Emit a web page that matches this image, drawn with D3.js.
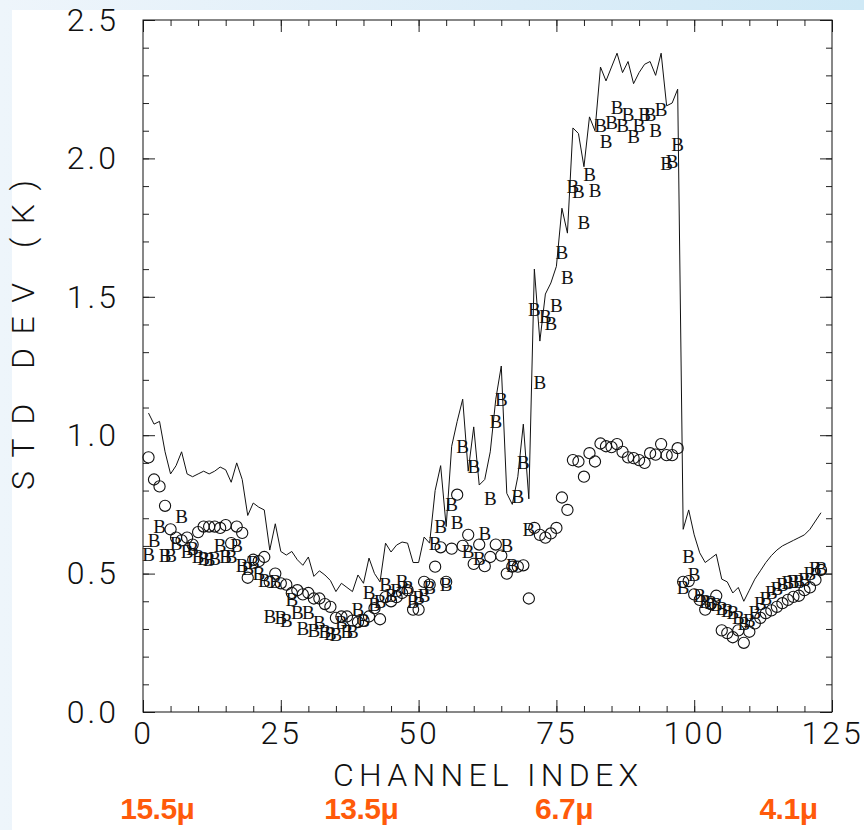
<!DOCTYPE html>
<html>
<head>
<meta charset="utf-8">
<script src="https://cdn.jsdelivr.net/npm/d3@7"></script>
<style>
  body { margin: 0; background: #fff; }
  svg { display: block; }
</style>
</head>
<body>
<svg id="chart"></svg>
<script>
// channel numbers 1..123
var channels = d3.range(1, 124);

// solid line
var lineValues = [
  1.08, 1.04, 1.05, 0.94, 0.86, 0.89, 0.94, 0.86, 0.85, 0.86,
  0.87, 0.86, 0.87, 0.885, 0.875, 0.83, 0.90, 0.84, 0.71, 0.755,
  0.74, 0.73, 0.585, 0.68, 0.58, 0.567, 0.58, 0.55, 0.53, 0.56,
  0.49, 0.51, 0.495, 0.475, 0.435, 0.465, 0.45, 0.435, 0.495, 0.465,
  0.556, 0.50, 0.47, 0.61, 0.578, 0.603, 0.614, 0.61, 0.54, 0.54,
  0.632, 0.61, 0.80, 0.89, 0.67, 0.96, 1.05, 1.13, 0.87, 1.03,
  0.82, 0.84, 0.94, 1.13, 1.25, 0.79, 0.75, 0.85, 1.04, 0.77,
  1.60, 1.34, 1.51, 1.55, 1.61, 1.82, 1.73, 2.11, 2.09, 1.97,
  2.15, 2.10, 2.33, 2.28, 2.33, 2.38, 2.31, 2.35, 2.27, 2.31,
  2.34, 2.35, 2.30, 2.38, 2.19, 2.20, 2.25, 0.66, 0.73, 0.64,
  0.575, 0.54, 0.555, 0.57, 0.48, 0.47, 0.43, 0.45, 0.40, 0.44,
  0.48, 0.51, 0.54, 0.565, 0.585, 0.60, 0.61, 0.62, 0.63, 0.64,
  0.66, 0.69, 0.72
];

// "O" symbols
var circleValues = [
  0.92, 0.84, 0.815, 0.745, 0.66, 0.63, 0.62, 0.63, 0.605, 0.65,
  0.67, 0.67, 0.67, 0.665, 0.675, 0.61, 0.67, 0.647, 0.485, 0.55,
  0.545, 0.56, 0.47, 0.50, 0.465, 0.46, 0.43, 0.44, 0.425, 0.43,
  0.41, 0.41, 0.39, 0.38, 0.34, 0.345, 0.345, 0.33, 0.325, 0.33,
  0.345, 0.375, 0.335, 0.415, 0.40, 0.415, 0.43, 0.44, 0.37, 0.37,
  0.47, 0.46, 0.525, 0.595, 0.47, 0.59, 0.785, 0.60, 0.64, 0.535,
  0.605, 0.527, 0.56, 0.605, 0.565, 0.50, 0.525, 0.525, 0.53, 0.41,
  0.665, 0.64, 0.63, 0.645, 0.665, 0.775, 0.73, 0.91, 0.905, 0.85,
  0.935, 0.905, 0.97, 0.96, 0.957, 0.968, 0.94, 0.92, 0.917, 0.91,
  0.90, 0.935, 0.93, 0.968, 0.928, 0.928, 0.953, 0.47, 0.473, 0.425,
  0.405, 0.37, 0.39, 0.42, 0.295, 0.285, 0.27, 0.295, 0.25, 0.29,
  0.32, 0.34, 0.357, 0.367, 0.38, 0.393, 0.405, 0.416, 0.42, 0.44,
  0.45, 0.477, 0.513
];

// "B" symbols
var bValues = [
  0.57, 0.62, 0.67, 0.565, 0.565, 0.61, 0.705, 0.58, 0.59, 0.56,
  0.555, 0.55, 0.555, 0.60, 0.56, 0.56, 0.60, 0.53, 0.52, 0.54,
  0.50, 0.475, 0.345, 0.47, 0.342, 0.33, 0.405, 0.36, 0.30, 0.36,
  0.296, 0.325, 0.29, 0.285, 0.28, 0.325, 0.29, 0.29, 0.37, 0.33,
  0.43, 0.39, 0.40, 0.46, 0.42, 0.44, 0.47, 0.45, 0.40, 0.415,
  0.42, 0.45, 0.61, 0.67, 0.46, 0.75, 0.685, 0.96, 0.58, 0.885,
  0.555, 0.645, 0.77, 1.05, 1.13, 0.60, 0.53, 0.78, 0.90, 0.66,
  1.455, 1.19, 1.43, 1.405, 1.467, 1.66, 1.57, 1.90, 1.88, 1.77,
  1.94, 1.885, 2.12, 2.06, 2.13, 2.185, 2.12, 2.16, 2.08, 2.12,
  2.16, 2.16, 2.10, 2.175, 1.98, 1.99, 2.05, 0.45, 0.56, 0.495,
  0.42, 0.40, 0.397, 0.39, 0.375, 0.368, 0.36, 0.343, 0.32, 0.33,
  0.36, 0.393, 0.41, 0.43, 0.447, 0.46, 0.466, 0.47, 0.47, 0.477,
  0.50, 0.52, 0.52
];

var xTickLabels = [0, 25, 50, 75, 100, 125];
var yTickLabels = [0, 0.5, 1.0, 1.5, 2.0, 2.5];

// wavelength notes under the axis, placed at a channel
var bandLabels = ["15.5\u03bc", "13.5\u03bc", "6.7\u03bc", "4.1\u03bc"];
var bandChannels = [2.6, 39.6, 76.4, 117.1];

var W = 864, H = 830;
var plotLeft = 143, plotRight = 832, plotTop = 20, plotBottom = 712;

var svg = d3.select("#chart").attr("width", W).attr("height", H);

// slide background
var defs = svg.append("defs");
var grad = defs.append("linearGradient").attr("id", "bg").attr("x1", 0).attr("x2", 1);
grad.append("stop").attr("offset", "0%").attr("stop-color", "#eef5fb");
grad.append("stop").attr("offset", "60%").attr("stop-color", "#dcedf8");
grad.append("stop").attr("offset", "100%").attr("stop-color", "#cfe9f6");
svg.append("rect").attr("width", W).attr("height", H).attr("fill", "url(#bg)");
svg.append("rect").attr("x", 12).attr("y", 10).attr("width", W - 12).attr("height", H - 10).attr("fill", "#fff");

var x = d3.scaleLinear().domain([0, 125]).range([plotLeft, plotRight]);
var y = d3.scaleLinear().domain([0, 2.5]).range([plotBottom, plotTop]);

var minorX = d3.range(0, 126, 5);
var minorY = d3.range(0, 26).map(function (d) { return d / 10; });

function tickStyle(g) {
  g.select(".domain").remove();
  g.selectAll(".tick line").attr("stroke", "#222").attr("stroke-width", 1);
}

// minor ticks on all four sides (pointing in)
svg.append("g").attr("transform", "translate(0," + plotBottom + ")")
  .call(d3.axisBottom(x).tickValues(minorX).tickSize(-6).tickFormat("")).call(tickStyle);
svg.append("g").attr("transform", "translate(0," + plotTop + ")")
  .call(d3.axisTop(x).tickValues(minorX).tickSize(-6).tickFormat("")).call(tickStyle);
svg.append("g").attr("transform", "translate(" + plotLeft + ",0)")
  .call(d3.axisLeft(y).tickValues(minorY).tickSize(-6).tickFormat("")).call(tickStyle);
svg.append("g").attr("transform", "translate(" + plotRight + ",0)")
  .call(d3.axisRight(y).tickValues(minorY).tickSize(-6).tickFormat("")).call(tickStyle);

// major ticks
svg.append("g").attr("transform", "translate(0," + plotTop + ")")
  .call(d3.axisTop(x).tickValues(xTickLabels).tickSize(-12).tickFormat("")).call(tickStyle);
svg.append("g").attr("transform", "translate(" + plotRight + ",0)")
  .call(d3.axisRight(y).tickValues(yTickLabels).tickSize(-12).tickFormat("")).call(tickStyle);

svg.append("g").attr("transform", "translate(0," + plotBottom + ")")
  .call(d3.axisBottom(x).tickValues(xTickLabels).tickSize(-12).tickPadding(9).tickFormat(d3.format("d")))
  .call(tickStyle);
svg.append("g").attr("transform", "translate(" + plotLeft + ",0)")
  .call(d3.axisLeft(y).tickValues(yTickLabels).tickSize(-12).tickPadding(24).tickFormat(d3.format(".1f")))
  .call(tickStyle);

svg.selectAll(".tick text")
  .attr("fill", "#111")
  .style("font-family", "Roboto, 'DejaVu Sans', sans-serif")
  .style("font-weight", "300")
  .style("font-size", "32px")
  .style("letter-spacing", "3px");

// frame
svg.append("rect")
  .attr("x", plotLeft).attr("y", plotTop)
  .attr("width", plotRight - plotLeft).attr("height", plotBottom - plotTop)
  .attr("fill", "none").attr("stroke", "#111").attr("stroke-width", 1);

// axis titles
svg.append("text")
  .attr("x", (plotLeft + plotRight) / 2 - 2).attr("y", 786)
  .attr("text-anchor", "middle")
  .attr("textLength", 305)
  .style("font-family", "Roboto, 'DejaVu Sans', sans-serif")
  .style("font-weight", "300")
  .style("font-size", "32px")
  .attr("fill", "#111")
  .text("CHANNEL INDEX");

svg.append("text")
  .attr("transform", "translate(34,335) rotate(-90)")
  .attr("text-anchor", "middle")
  .attr("textLength", 310)
  .style("font-family", "Roboto, 'DejaVu Sans', sans-serif")
  .style("font-weight", "300")
  .style("font-size", "32px")
  .attr("fill", "#111")
  .text("STD DEV (K)");

// data
var line = d3.line()
  .x(function (d, i) { return x(channels[i]); })
  .y(function (d) { return y(d); });

svg.append("path")
  .datum(lineValues)
  .attr("d", line)
  .attr("fill", "none")
  .attr("stroke", "#111")
  .attr("stroke-width", 1);

svg.append("g").selectAll("circle")
  .data(circleValues)
  .enter()
  .append("circle")
  .attr("cx", function (d, i) { return x(channels[i]); })
  .attr("cy", function (d) { return y(d); })
  .attr("r", 5.6)
  .attr("fill", "none")
  .attr("stroke", "#111")
  .attr("stroke-width", 1.1);

svg.append("g").selectAll("text")
  .data(bValues)
  .enter()
  .append("text")
  .attr("x", function (d, i) { return x(channels[i]); })
  .attr("y", function (d) { return y(d); })
  .attr("dy", "0.34em")
  .attr("text-anchor", "middle")
  .style("font-family", "'Liberation Serif', 'DejaVu Serif', serif")
  .style("font-size", "19px")
  .attr("fill", "#111")
  .text("B");

// wavelength labels
svg.append("g").selectAll("text")
  .data(bandLabels)
  .enter()
  .append("text")
  .attr("x", function (d, i) { return x(bandChannels[i]); })
  .attr("y", 819)
  .attr("text-anchor", "middle")
  .style("font-family", "'Liberation Sans', Arial, sans-serif")
  .style("font-weight", "bold")
  .style("font-size", "30px")
  .style("letter-spacing", "-0.5px")
  .attr("fill", "#ff5a0a")
  .text(function (d) { return d; });
</script>
</body>
</html>
